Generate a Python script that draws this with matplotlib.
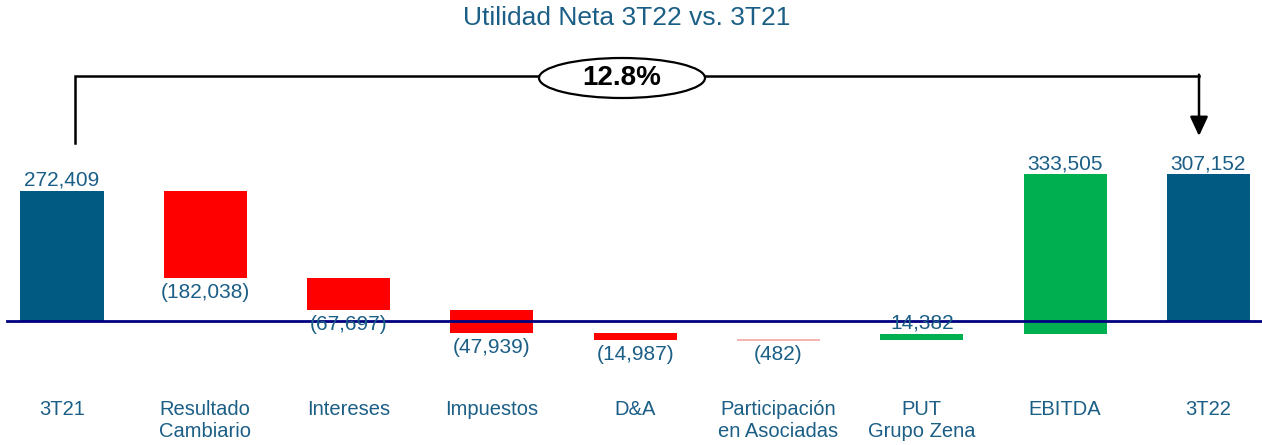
import numpy as np
import matplotlib.pyplot as plt
from matplotlib.patches import Ellipse

plt.rcParams['font.family'] = ['Liberation Sans', 'DejaVu Sans']

categories = ["3T21", "Resultado\nCambiario", "Intereses", "Impuestos", "D&A",
              "Participación\nen Asociadas", "PUT\nGrupo Zena", "EBITDA", "3T22"]
start_value = 272409
deltas = [-182038, -67697, -47939, -14987, -482, 14382, 333505]
end_value = 307152
value_labels = ["272,409", "(182,038)", "(67,697)", "(47,939)", "(14,987)",
                "(482)", "14,382", "333,505", "307,152"]
change_label = "12.8%"
title = "Utilidad Neta 3T22 vs. 3T21"

navy = "#005A82"
red = "#FF0000"
green = "#00B050"
text_blue = "#1B5E86"

# pixel scale helpers (layout only)
W, H = 1262, 445
step_px = 143.3
x0_px = 62
base_px = 321
k = 130 / start_value  # px per unit


def yv(px):
    return (base_px - px) / k


def xv(px):
    return (px - x0_px) / step_px


fig = plt.figure(figsize=(W / 100, H / 100), dpi=100)
ax = fig.add_axes([0, 0, 1, 1])
ax.set_xlim(xv(0), xv(W))
ax.set_ylim(yv(H), yv(0))
ax.axis("off")

# waterfall geometry
bottoms = [0]
heights = [start_value]
colors = [navy]
level = start_value
for d in deltas:
    new = level + d
    bottoms.append(min(level, new))
    heights.append(abs(d))
    colors.append(green if d > 0 else red)
    level = new
bottoms.append(0)
heights.append(end_value)
colors.append(navy)

x = np.arange(len(categories))
width = 0.58
for i in range(len(categories)):
    if i == 5:
        # tiny change drawn as thin light line
        ax.hlines(bottoms[i], x[i] - width / 2, x[i] + width / 2,
                  color="#F4A6A0", lw=1.2, zorder=2)
    else:
        ax.bar(x[i], heights[i], width=width, bottom=bottoms[i],
               color=colors[i], zorder=2)

# value labels
signs = [1] + [np.sign(d) for d in deltas] + [1]
for i in range(len(categories)):
    if signs[i] > 0:
        ax.annotate(value_labels[i], (x[i], bottoms[i] + heights[i]),
                    xytext=(0, 1), textcoords="offset points",
                    ha="center", va="bottom", fontsize=15, color=text_blue, zorder=4)
    else:
        ax.annotate(value_labels[i], (x[i], bottoms[i]),
                    xytext=(0, -3.5), textcoords="offset points",
                    ha="center", va="top", fontsize=15, color=text_blue, zorder=4)

# baseline
ax.axhline(0, xmin=7 / W, xmax=1, color="#000080", lw=2, zorder=3)

# category labels
for i, c in enumerate(categories):
    ax.text(x[i], yv(400), c, ha="center", va="top", fontsize=14.5,
            color=text_blue, linespacing=1.22)

# title
fig.text(627 / W, 1 - 18 / H, title, ha="center", va="center",
         fontsize=19, color=text_blue)

# bracket with growth label
yb = yv(76)
xl = xv(75)
xr = xv(1199)
ax.plot([xl, xl, xr], [yv(143), yb, yb], color="black", lw=1.8,
        solid_joinstyle="miter", zorder=3)
ax.annotate("", xy=(xr, yv(136)), xytext=(xr, yb + 1.3 / k),
            arrowprops=dict(arrowstyle="-|>,head_width=0.42,head_length=0.9",
                            mutation_scale=13, color="black", lw=1.8,
                            shrinkA=0, shrinkB=0),
            zorder=3)
ell = Ellipse((xv(622), yv(78)), width=166 / step_px, height=40 / k,
              facecolor="white", edgecolor="black", lw=1.6, zorder=4)
ax.add_patch(ell)
ax.text(xv(622), yv(78), change_label, ha="center", va="center",
        fontsize=20, fontweight="bold", color="black", zorder=5)

fig.savefig("out.png", dpi=100)
